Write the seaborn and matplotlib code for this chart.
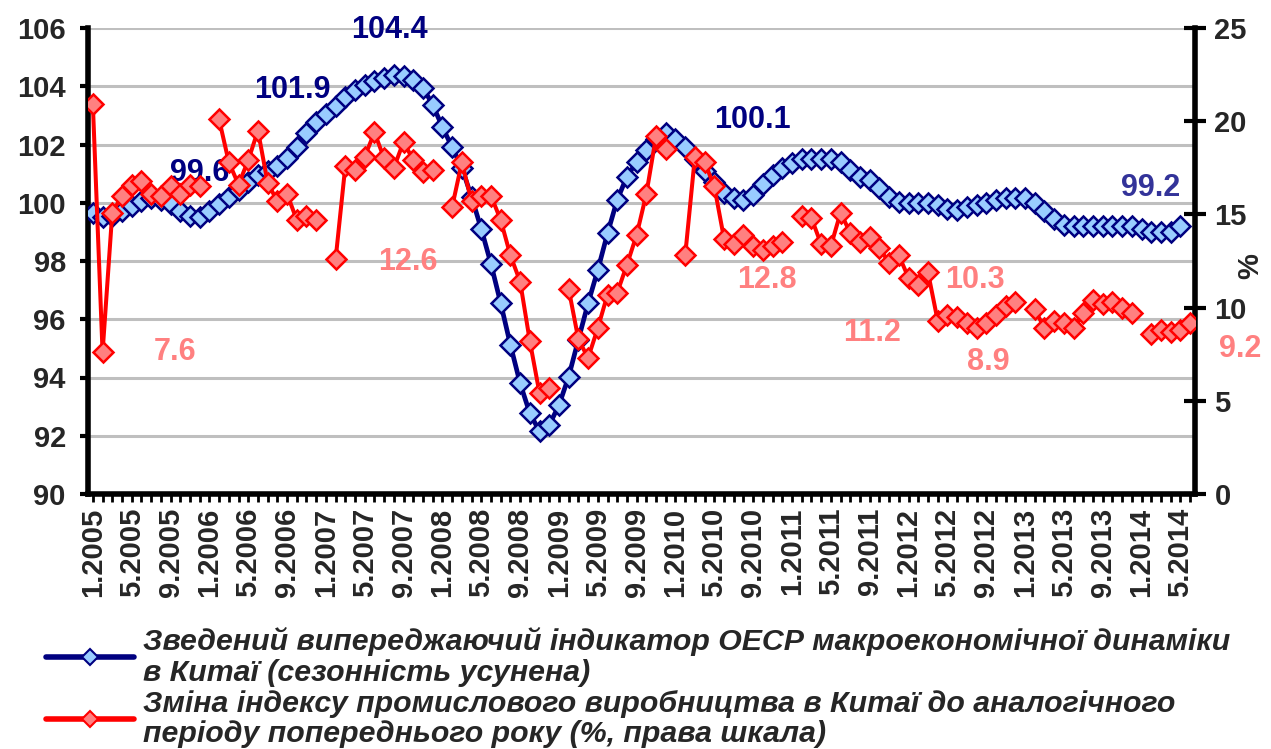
import numpy as np
import pandas as pd
import matplotlib
matplotlib.use("Agg")
import matplotlib.pyplot as plt
import seaborn as sns
from matplotlib.lines import Line2D
from matplotlib.font_manager import FontProperties

nan = np.nan

# ---- categories (monthly, 1.2005 .. 6.2014) ----
years = list(range(2005, 2015))
months = [f"{m}.{y}" for y in years for m in range(1, 13)][:114]

# ---- OECD composite leading indicator, China (left scale) ----
cli_2005 = [99.65, 99.5, 99.55, 99.7, 99.9, 100.05, 100.15, 100.1, 99.95, 99.7, 99.55, 99.5]
cli_2006 = [99.7, 99.95, 100.2, 100.45, 100.7, 100.95, 101.1, 101.25, 101.55, 101.9, 102.4, 102.78]
cli_2007 = [103.05, 103.33, 103.64, 103.87, 104.04, 104.18, 104.3, 104.4, 104.35, 104.2, 103.95, 103.36]
cli_2008 = [102.6, 101.9, 101.2, 100.2, 99.1, 97.9, 96.55, 95.12, 93.8, 92.77, 92.15, 92.37]
cli_2009 = [93.05, 94.03, 95.3, 96.55, 97.69, 98.95, 100.1, 100.9, 101.4, 101.8, 102.2, 102.4]
cli_2010 = [102.2, 101.9, 101.5, 101.1, 100.7, 100.35, 100.15, 100.1, 100.25, 100.65, 100.95, 101.2]
cli_2011 = [101.35, 101.5, 101.5, 101.5, 101.5, 101.4, 101.12, 100.9, 100.78, 100.5, 100.21, 100.04]
cli_2012 = [100.0, 100.0, 99.98, 99.92, 99.8, 99.75, 99.85, 99.92, 100.0, 100.1, 100.18, 100.18]
cli_2013 = [100.15, 100.0, 99.72, 99.45, 99.22, 99.2, 99.2, 99.2, 99.2, 99.2, 99.2, 99.2]
cli_2014 = [99.1, 99.0, 99.0, 99.0, 99.2]

# ---- Industrial production, % y/y (right scale) ----
ip_2005 = [20.9, 7.6, 15.1, 16.0, 16.6, 16.8, 16.1, 16.0, 16.5, 16.1, 16.6, 16.5]
ip_2006 = [nan, 20.1, 17.8, 16.6, 17.9, 19.5, 16.7, 15.7, 16.1, 14.7, 14.9, 14.7]
ip_2007 = [nan, 12.6, 17.6, 17.4, 18.1, 19.4, 18.0, 17.5, 18.9, 17.9, 17.3, 17.4]
ip_2008 = [nan, 15.4, 17.8, 15.7, 16.0, 16.0, 14.7, 12.8, 11.4, 8.2, 5.4, 5.7]
ip_2009 = [nan, 11.0, 8.3, 7.3, 8.9, 10.7, 10.8, 12.3, 13.9, 16.1, 19.2, 18.5]
ip_2010 = [nan, 12.8, 18.1, 17.8, 16.5, 13.7, 13.4, 13.9, 13.3, 13.1, 13.3, 13.5]
ip_2011 = [nan, 14.9, 14.8, 13.4, 13.3, 15.1, 14.0, 13.5, 13.8, 13.2, 12.4, 12.8]
ip_2012 = [11.6, 11.2, 11.9, 9.3, 9.6, 9.5, 9.2, 8.9, 9.2, 9.6, 10.1, 10.3]
ip_2013 = [nan, 9.9, 8.9, 9.3, 9.2, 8.9, 9.7, 10.4, 10.2, 10.3, 10.0, 9.7]
ip_2014 = [nan, 8.6, 8.8, 8.7, 8.8, 9.2]

cli = cli_2005 + cli_2006 + cli_2007 + cli_2008 + cli_2009 + cli_2010 + cli_2011 + cli_2012 + cli_2013 + cli_2014
ip = ip_2005 + ip_2006 + ip_2007 + ip_2008 + ip_2009 + ip_2010 + ip_2011 + ip_2012 + ip_2013 + ip_2014

# data labels: (month index, text, dx px, dy px)
blue_labels = [(10, "99.6", 10, 43), (21, "101.9", -4, 57), (31, "104.4", -4, 45),
               (67, "100.1", 9, 80), (112, "99.2", -30, 38)]
red_labels = [(1, "7.6", 72, 0), (25, "12.6", 72, -3), (61, "12.8", 82, -25),
              (85, "11.2", -46, -48), (95, "10.3", -40, 22), (91, "8.9", 12, -34),
              (113, "9.2", 50, -26)]

legend_labels = [
    "Зведений випереджаючий індикатор ОЕСР макроекономічної динаміки\nв Китаї (сезонність усунена)",
    "Зміна індексу промислового виробництва в Китаї до аналогічного\nперіоду попереднього року (%, права шкала)",
]

NAVY = "#000080"
LBLUE = "#99CCFF"
RED = "#FF0000"
SALMON = "#FF8080"

sns.set_theme(style="white")
plt.rcParams["font.family"] = ["Liberation Sans", "DejaVu Sans"]
plt.rcParams["font.weight"] = "bold"

W, H = 1271, 749
fig = plt.figure(figsize=(W / 100, H / 100), dpi=100)
ax = fig.add_axes([88 / W, 1 - 494 / H, (1195 - 88) / W, (494 - 28) / H])
ax2 = ax.twinx()

df_blue = pd.DataFrame({"idx": np.arange(len(cli)), "val": cli})
df_red = pd.DataFrame({"idx": np.arange(len(ip)), "val": ip})
df_red["seg"] = df_red["val"].isna().cumsum()
df_red = df_red.dropna()

sns.lineplot(data=df_blue, x="idx", y="val", ax=ax, color=NAVY, lw=3.4,
             marker="D", markersize=10.5, markerfacecolor=LBLUE,
             markeredgecolor=NAVY, markeredgewidth=1.8, zorder=3)
sns.lineplot(data=df_red, x="idx", y="val", units="seg", estimator=None, ax=ax2,
             color=RED, lw=2.9, marker="D", markersize=10.5, markerfacecolor=SALMON,
             markeredgecolor=RED, markeredgewidth=1.8, zorder=3)

# left axis
ax.set_ylim(90, 106)
ax.set_yticks(range(90, 107, 2))
ax.yaxis.grid(True, color="#BFBFBF", lw=2.2)
ax.xaxis.grid(False)
ax.set_axisbelow(True)
ax.set_xlim(-0.5, len(months) - 0.5)
ax.set_xticks(range(0, len(months), 4))
ax.set_xticklabels(months[::4], rotation=90, fontsize=21, fontweight="bold")
ax.set_xticks(range(len(months)), minor=True)
ax.tick_params(axis="x", which="both", direction="out", length=6, width=2,
               color="black", pad=4, bottom=True)
ax.tick_params(axis="y", direction="out", length=6, width=3, color="black",
               labelsize=21, pad=10, left=True)
for lab in ax.get_yticklabels():
    lab.set_fontweight("bold")
ax.set_xlabel("")
ax.set_ylabel("")
for s in ["top", "right"]:
    ax.spines[s].set_visible(False)
for s in ["left", "bottom"]:
    ax.spines[s].set_color("black")
    ax.spines[s].set_linewidth(4)

# right axis
ax2.set_ylim(0, 25)
ax2.set_yticks(range(0, 26, 5))
ax2.tick_params(axis="y", direction="inout", length=16, width=3, color="black",
                labelsize=21, pad=6, right=True)
for lab in ax2.get_yticklabels():
    lab.set_fontweight("bold")
ax2.set_ylabel("")
ax2.grid(False)
for s in ["top", "left", "bottom"]:
    ax2.spines[s].set_visible(False)
ax2.spines["right"].set_color("black")
ax2.spines["right"].set_linewidth(4)
ax2.text(1.0497, 0.49, "%", transform=ax2.transAxes, rotation=90,
         ha="center", va="center", fontsize=21, fontweight="bold")

# data labels
for i, t, dx, dy in blue_labels:
    col = "#333399" if t == "99.2" else NAVY
    ax.annotate(t, xy=(i, cli[i]), xytext=(dx * 0.72, dy * 0.72),
                textcoords="offset points", ha="center", va="center",
                fontsize=22, fontweight="bold", color=col, annotation_clip=False)
for i, t, dx, dy in red_labels:
    ax2.annotate(t, xy=(i, ip[i]), xytext=(dx * 0.72, dy * 0.72),
                 textcoords="offset points", ha="center", va="center",
                 fontsize=22, fontweight="bold", color=SALMON, annotation_clip=False)

# legend
handles = [
    Line2D([], [], color=NAVY, lw=4, marker="D", ms=8, mfc=LBLUE, mec=NAVY, mew=1.5),
    Line2D([], [], color=RED, lw=4, marker="D", ms=8, mfc=SALMON, mec=RED, mew=1.5),
]
fp = FontProperties(family=["Liberation Sans", "DejaVu Sans"], style="italic",
                    weight="bold", size=21.8)
leg = fig.legend(handles, legend_labels, loc="upper left",
                 bbox_to_anchor=(46 / W, 1 - 627 / H), prop=fp, frameon=False,
                 handlelength=2.9, handletextpad=0.3, labelspacing=0.1,
                 borderaxespad=0, borderpad=0)
for t in leg.get_texts():
    t.set_linespacing(1.12)

fig.savefig("out.png", dpi=100)
